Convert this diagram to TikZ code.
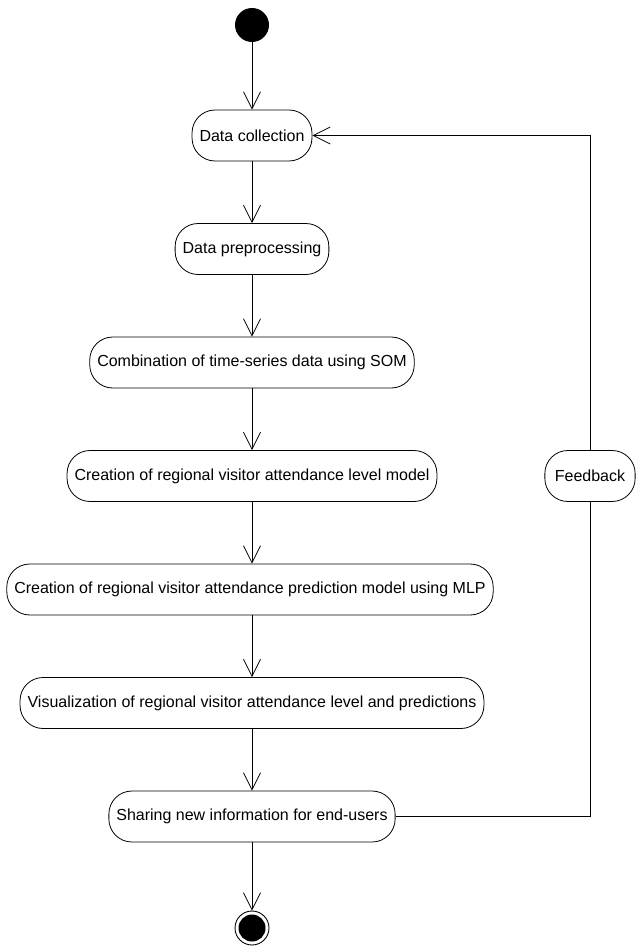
\documentclass[tikz,border=0pt]{standalone}
\usepackage{fontspec}
\setmainfont{Liberation Sans}
\usetikzlibrary{arrows.meta}
\begin{document}
\begin{tikzpicture}[x=1pt,y=-1pt,
  act/.style={draw, line width=0.8pt, rounded corners=23pt, minimum height=51pt, inner xsep=7.5pt, inner ysep=0pt, font=\fontsize{16}{19}\selectfont},
  flow/.style={draw, line width=0.8pt, -{Straight Barb[length=17pt,width=17pt,line width=0.8pt]}},
  link/.style={draw, line width=0.8pt},
]
\useasboundingbox (0,0) rectangle (636,947);
\node[circle, fill=black, minimum size=34pt, inner sep=0pt] (start) at (252,25) {};
\node[act] (dc) at (252,135.5) {Data collection};
\node[act] (dp) at (252,249) {Data preprocessing};
\node[act] (som) at (252,362.5) {Combination of time-series data using SOM};
\node[act] (lvl) at (252,476) {Creation of regional visitor attendance level model};
\node[act] (mlp) at (250,589.5) {Creation of regional visitor attendance prediction model using MLP};
\node[act] (vis) at (252,703) {Visualization of regional visitor attendance level and predictions};
\node[act] (share) at (252,816.5) {Sharing new information for end-users};
\node[act, inner xsep=10pt] (fb) at (590,476) {Feedback};
\node[circle, draw, line width=0.9pt, minimum size=34pt, inner sep=0pt,
  path picture={\fill (path picture bounding box.center) circle (13.5pt);}] (end) at (252,928) {};
\draw[flow] (start) -- (dc);
\draw[flow] (dc) -- (dp);
\draw[flow] (dp) -- (som);
\draw[flow] (som) -- (lvl);
\draw[flow] (lvl.south) -- (lvl.south |- mlp.north);
\draw[flow] (mlp.south -| vis.north) -- (vis.north);
\draw[flow] (vis) -- (share);
\draw[flow] (share) -- (end);
\draw[link] (share.east) -| (fb.south);
\draw[flow] (fb.north) |- (dc.east);
\end{tikzpicture}
\end{document}
